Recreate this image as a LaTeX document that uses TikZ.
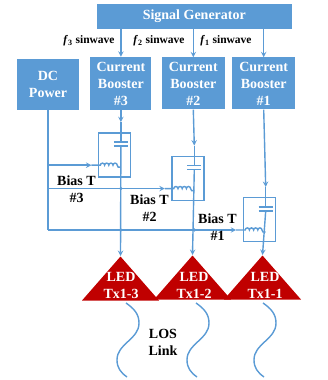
\documentclass[tikz,border=0pt]{standalone}
\usepackage{fontspec}
\setmainfont{Liberation Serif}
\usetikzlibrary{positioning,arrows,shapes.geometric}

\definecolor{boxblue}{HTML}{5B9BD5}
\definecolor{ledred}{HTML}{C00000}

\tikzset{
  bluebox/.style={fill=boxblue, text=white, inner sep=0pt, align=center,
    font=\fontsize{14}{17}\selectfont\bfseries},
  wire/.style={draw=boxblue, line width=1.4pt},
  flow/.style={wire, ->, >=stealth},
  biasbox/.style={draw=boxblue, line width=1.4pt, minimum width=32pt, minimum height=44pt, inner sep=0pt},
  ledtri/.style={isosceles triangle, isosceles triangle stretches, shape border rotate=90,
    fill=ledred, inner sep=0pt, minimum width=77pt, minimum height=44pt},
  ledtext/.style={text=white, inner sep=0pt, align=center, font=\fontsize{14}{17}\selectfont\bfseries},
  blacktext/.style={inner sep=0pt, align=center, font=\fontsize{14}{17}\selectfont\bfseries},
  freqtext/.style={inner sep=0pt, font=\fontsize{11.5}{14}\selectfont\bfseries},
  wave/.style={draw=boxblue, line width=1.4pt},
  junction/.style={circle, fill=boxblue, inner sep=0pt, minimum size=3.5pt},
}

\begin{document}
\begin{tikzpicture}[x=1pt, y=1pt]

  \useasboundingbox (0,0) rectangle (327,380);

  % sources
  \node[bluebox, minimum width=62pt, minimum height=51pt] (dcpower) at (48,295.5) {DC\\Power};
  \node[bluebox, minimum width=61pt, minimum height=53pt] (booster3) [right=11pt of dcpower, yshift=1pt] {Current\\Booster\\\#3};
  \node[bluebox, minimum width=63pt, minimum height=52pt] (booster2) [right=10pt of booster3] {Current\\Booster\\\#2};
  \node[bluebox, minimum width=63pt, minimum height=52pt] (booster1) [right=7pt of booster2] {Current\\Booster\\\#1};
  \node[bluebox, minimum width=195pt, minimum height=25pt] (siggen) [above=28pt of booster2, xshift=1pt] {Signal Generator};

  % bias tees
  \node[biasbox] (biasbox3) [below=22pt of booster3, xshift=-6.5pt] {};
  \node[biasbox] (biasbox2) [below right=-22pt and 40pt of biasbox3] {};
  \node[biasbox] (biasbox1) [below right=-4pt and 38pt of biasbox2] {};

  % transmitters
  \node[ledtri, anchor=apex] (led3) at (120.5,124) {};
  \node[ledtri, anchor=apex] (led2) at (192.5,125) {};
  \node[ledtri, anchor=apex] (led1) at (262.5,125) {};
  \node[ledtext] (ledtext3) at (121,94.5) {LED\\Tx1-3};
  \node[ledtext] (ledtext2) at (194,95) {LED\\Tx1-2};
  \node[ledtext] (ledtext1) at (265,95) {LED\\Tx1-1};

  \foreach \n in {1,2,3} {
    \coordinate[above=10pt of biasbox\n.north, xshift=6.5pt] (tip\n);
    \coordinate[below=10pt of biasbox\n.north, xshift=6.5pt] (capa\n);
    \coordinate[below=14pt of biasbox\n.north, xshift=6.5pt] (capb\n);
    \coordinate[below=33pt of biasbox\n.north, xshift=-14pt] (ind\n);
    \coordinate[below=2pt of ind\n] (indlow\n);
    \coordinate[left=9pt of ind\n] (feed\n);

    \draw[flow] (booster\n.south) -- (tip\n);
    \draw[wire] (tip\n) -- (capa\n);
    \draw[wire] ([xshift=-7pt]capa\n) -- ([xshift=7pt]capa\n);
    \draw[wire] ([xshift=-7pt]capb\n) -- ([xshift=7pt]capb\n);
    \draw[flow] (capb\n) -- (led\n.apex);
    \draw[flow] (booster\n.north |- siggen.south) -- (booster\n.north);

    \draw[flow] (dcpower.south |- ind\n) -- (feed\n);
    \draw[wire] (feed\n) -- (ind\n) arc (180:0:2.1) arc (180:0:2.1) arc (180:0:2.1) arc (180:0:2.1)
      -- ++(1,-2) -- (capa\n |- indlow\n);
  }
  \draw[wire] (dcpower.south) -- (dcpower.south |- ind1);

  \node[junction] (dot1) at (capa3 |- ind2) {};
  \node[junction] (dot2) at (capa3 |- ind1) {};
  \node[junction] (dot3) at (capa2 |- ind1) {};

  % labels
  \node[freqtext] (freq3) at (89,339) {\textit{f}\textsubscript{3} sinwave};
  \node[freqtext] (freq2) at (159,339) {\textit{f}\textsubscript{2} sinwave};
  \node[freqtext] (freq1) at (226,339) {\textit{f}\textsubscript{1} sinwave};
  \node[blacktext] (biastext3) at (76.5,190.5) {Bias T\\\#3};
  \node[blacktext] (biastext2) at (149.5,171.5) {Bias T\\\#2};
  \node[blacktext] (biastext1) at (217.5,152.5) {Bias T\\\#1};
  \node[blacktext] (loslink) at (163,38) {LOS\\Link};

  % channel
  \coordinate (wave3) at (126,77);
  \coordinate (wave2) at (196,77);
  \coordinate (wave1) at (263,77);
  \foreach \n in {1,2,3} {
    \draw[wave] (wave\n) to[out=-35,in=90] ++(13,-20) to[out=-90,in=90] ++(-22,-37) to[out=-90,in=145] ++(10,-17);
  }

\end{tikzpicture}
\end{document}
